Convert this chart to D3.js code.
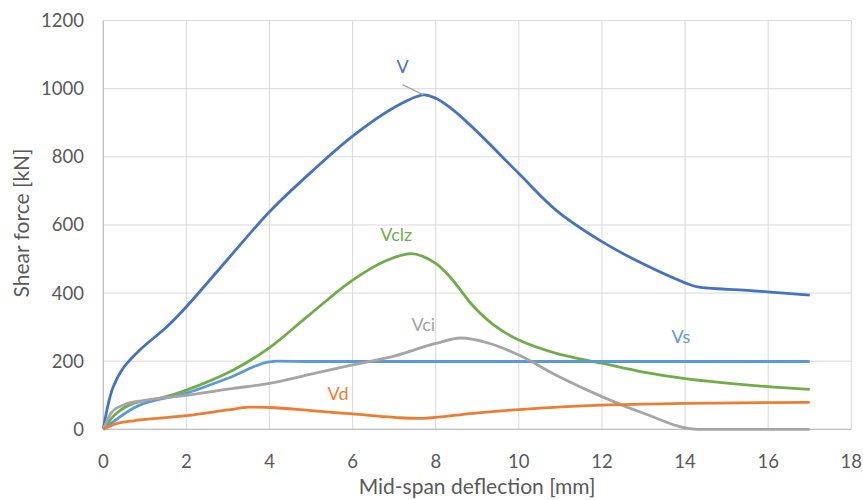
<!DOCTYPE html>
<html>
<head>
<meta charset="utf-8">
<script src="https://cdn.jsdelivr.net/npm/d3@7"></script>
<style>
  body { margin: 0; background: #fff; }
  text { font-family: Lato, "Open Sans", sans-serif; }
</style>
</head>
<body>
<svg id="chart" width="863" height="500"></svg>
<script>
// Data (x = deflection mm, y = shear kN)
let xTicks = [0, 2, 4, 6, 8, 10, 12, 14, 16, 18];
let yTicks = [0, 200, 400, 600, 800, 1000, 1200];

let vX = [0, 0.12, 0.24, 0.48, 0.88, 1.53, 2, 3, 4, 5, 6, 7, 7.7, 8, 8.34, 8.9, 10, 10.9, 12, 13, 14, 14.3, 15.5, 17];
let vY = [0, 75, 125, 180, 233, 301, 360, 500, 639, 755, 861, 945, 982, 972, 945, 885, 751, 643, 551, 485, 430, 418, 408, 394];

let vclzX = [0, 0.3, 0.72, 1.4, 2, 3.13, 4, 4.9, 6, 6.8, 7.42, 7.7, 8, 8.34, 8.9, 9.4, 10, 10.9, 12, 13, 14, 16, 17];
let vclzY = [0, 45, 76, 92, 115, 174, 240, 330, 438, 495, 516, 507, 487, 448, 362, 306, 262, 223, 194, 168, 149, 125, 117];

let vsX = [0, 0.72, 2, 3, 4, 4.2, 5, 17];
let vsY = [0, 62, 106, 150, 198, 200, 199, 199];

let vciX = [0, 0.2, 0.5, 1, 2, 3.13, 4, 5, 6, 7, 8, 8.6, 9.3, 10, 10.9, 12, 13, 14.3, 17];
let vciY = [0, 50, 72, 85, 100, 120, 135, 162, 189, 215, 252, 268, 252, 218, 159, 96, 47, 0, 0];

let vdX = [0, 0.3, 0.72, 2, 3, 3.5, 4, 5, 6, 7, 7.7, 8.9, 10, 12, 14, 17];
let vdY = [0, 16, 25, 40, 57, 65, 64, 55, 45, 35, 32, 47, 58, 71, 76, 79];

let seriesNames = ["V", "Vclz", "Vs", "Vci", "Vd"];
let seriesColors = ["#4472C4", "#70AD47", "#5B9BD5", "#A5A5A5", "#ED7D31"];
let seriesXs = [vX, vclzX, vsX, vciX, vdX];
let seriesYs = [vY, vclzY, vsY, vciY, vdY];
let seriesSmooth = [true, true, false, false, true];
// label anchor positions in data units
let labelX = [7.2, 7.05, 13.9, 7.7, 5.65];
let labelY = [1065, 572, 272, 308, 104];

let svg = d3.select("#chart");
let margin = {left: 103.3, right: 863 - 851.3, top: 20.6, bottom: 500 - 429.3};
let width = 863 - margin.left - margin.right;
let height = 500 - margin.top - margin.bottom;

let x = d3.scaleLinear().domain([0, 18]).range([margin.left, margin.left + width]);
let y = d3.scaleLinear().domain([0, 1200]).range([margin.top + height, margin.top]);

// gridlines
svg.append("g").selectAll("line.v")
  .data(xTicks).join("line")
  .attr("x1", d => x(d)).attr("x2", d => x(d))
  .attr("y1", y(0)).attr("y2", y(1200))
  .attr("stroke", "#d9d9d9").attr("stroke-width", 1);
svg.append("g").selectAll("line.h")
  .data(yTicks).join("line")
  .attr("x1", x(0)).attr("x2", x(18))
  .attr("y1", d => y(d)).attr("y2", d => y(d))
  .attr("stroke", "#d9d9d9").attr("stroke-width", 1);

// axis lines
svg.append("line").attr("x1", x(0)).attr("x2", x(18)).attr("y1", y(0)).attr("y2", y(0))
  .attr("stroke", "#bfbfbf").attr("stroke-width", 1.2);
svg.append("line").attr("x1", x(0)).attr("x2", x(0)).attr("y1", y(0)).attr("y2", y(1200))
  .attr("stroke", "#bfbfbf").attr("stroke-width", 1.2);

// tick labels
svg.append("g").selectAll("text")
  .data(yTicks).join("text")
  .attr("x", 84).attr("y", d => y(d))
  .attr("dy", "0.35em")
  .attr("text-anchor", "end")
  .attr("font-size", 18.5).attr("fill", "#595959")
  .text(d => d);
svg.append("g").selectAll("text")
  .data(xTicks).join("text")
  .attr("x", d => x(d)).attr("y", 462)
  .attr("dy", "0.35em")
  .attr("text-anchor", "middle")
  .attr("font-size", 18.5).attr("fill", "#595959")
  .text(d => d);

// axis titles
svg.append("text")
  .attr("x", 477).attr("y", 494)
  .attr("text-anchor", "middle")
  .attr("font-size", 21).attr("fill", "#595959")
  .text("Mid-span deflection [mm]");
svg.append("text")
  .attr("transform", "translate(22,223) rotate(-90)")
  .attr("dy", "0.35em")
  .attr("text-anchor", "middle")
  .attr("font-size", 21).attr("fill", "#595959")
  .text("Shear force [kN]");

// lines
let smoothLine = d3.line()
  .x(d => x(d[0]))
  .y(d => y(d[1]))
  .curve(d3.curveCatmullRom.alpha(0.5));
let flatLine = d3.line()
  .x(d => x(d[0]))
  .y(d => y(d[1]))
  .curve(d3.curveMonotoneX);

seriesNames.forEach(function(name, i) {
  let pts = seriesXs[i].map((xv, j) => [xv, seriesYs[i][j]]);
  svg.append("path")
    .datum(pts)
    .attr("fill", "none")
    .attr("stroke", seriesColors[i])
    .attr("stroke-width", 2.8)
    .attr("stroke-linejoin", "round")
    .attr("d", seriesSmooth[i] ? smoothLine : flatLine);
});

// leader line for V label
svg.append("line")
  .attr("x1", x(7.2)).attr("y1", y(1012))
  .attr("x2", x(7.7)).attr("y2", y(982))
  .attr("stroke", "#a5a5a5").attr("stroke-width", 1.2);

// series labels
svg.append("g").selectAll("text")
  .data(seriesNames).join("text")
  .attr("x", (d, i) => x(labelX[i]))
  .attr("y", (d, i) => y(labelY[i]))
  .attr("dy", "0.35em")
  .attr("text-anchor", "middle")
  .attr("font-size", 18)
  .attr("fill", (d, i) => seriesColors[i])
  .text(d => d);
</script>
</body>
</html>
